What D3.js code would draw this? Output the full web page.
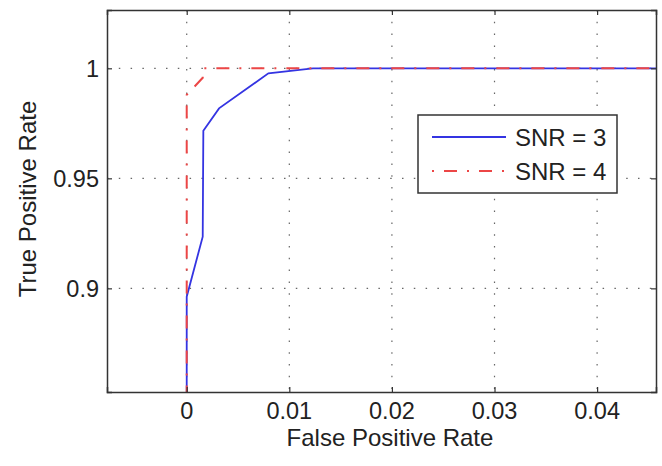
<html>
<head>
<script src="https://d3js.org/d3.v7.min.js"></script>
<style>
  body { margin: 0; background: #fff; }
  text { font-family: "Liberation Sans", Arial, sans-serif; fill: #222; }
  .grid line { stroke: #666; stroke-width: 1.2; stroke-dasharray: 1.5,10.3; }
</style>
</head>
<body>
<svg id="chart" width="662" height="466"></svg>
<script>
// values
const xTicks = [0, 0.01, 0.02, 0.03, 0.04];
const yTicks = [0.9, 0.95, 1];
const seriesNames = ["SNR = 3", "SNR = 4"];
const fprSnr3 = [0, 0, 0.00156, 0.00162, 0.00315, 0.00796, 0.0123, 0.05];
const tprSnr3 = [0.85, 0.8962, 0.9235, 0.9716, 0.9818, 0.9977, 1, 1];
const fprSnr4 = [0, 0, 0.00156, 0.00156, 0.05];
const tprSnr4 = [0.85, 0.9879, 0.9957, 1, 1];

const width = 662, height = 466;
const box = {left: 107, top: 10, right: 656, bottom: 392};

const svg = d3.select("#chart");

const xScale = d3.scaleLinear().domain([-0.00777, 0.04574]).range([box.left, box.right]);
const yScale = d3.scaleLinear().domain([0.8529, 1.0265]).range([box.bottom, box.top]);

svg.append("clipPath").attr("id", "plotclip")
   .append("rect")
   .attr("x", box.left).attr("y", box.top)
   .attr("width", box.right - box.left).attr("height", box.bottom - box.top);

// dotted grid
let grid = svg.append("g").attr("class", "grid");
grid.selectAll("line.v").data(xTicks).join("line").attr("class", "v")
    .attr("x1", d => xScale(d)).attr("x2", d => xScale(d))
    .attr("y1", box.top).attr("y2", box.bottom);
grid.selectAll("line.h").data(yTicks).join("line").attr("class", "h")
    .attr("y1", d => yScale(d)).attr("y2", d => yScale(d))
    .attr("x1", box.left).attr("x2", box.right);

// curves
const snr3 = fprSnr3.map((x, i) => [x, tprSnr3[i]]);
const snr4 = fprSnr4.map((x, i) => [x, tprSnr4[i]]);
let lineGen = d3.line().x(d => xScale(d[0])).y(d => yScale(d[1]));

let plot = svg.append("g").attr("clip-path", "url(#plotclip)");
plot.append("path").datum(snr3)
    .attr("fill", "none").attr("stroke", "#3434e2").attr("stroke-width", 1.8)
    .attr("d", lineGen);
plot.append("path").datum(snr4)
    .attr("fill", "none").attr("stroke", "#ec4646").attr("stroke-width", 2)
    .attr("stroke-dasharray", "13,10,2,10")
    .attr("d", lineGen);

// axes box with inward ticks
let axisBottom = d3.axisBottom(xScale).tickValues(xTicks).tickSize(-5).tickFormat("");
let axisTop = d3.axisTop(xScale).tickValues(xTicks).tickSize(-5).tickFormat("");
let axisLeft = d3.axisLeft(yScale).tickValues(yTicks).tickSize(-5).tickFormat("");
let axisRight = d3.axisRight(yScale).tickValues(yTicks).tickSize(-5).tickFormat("");
[[axisBottom, `translate(0,${box.bottom})`], [axisTop, `translate(0,${box.top})`],
 [axisLeft, `translate(${box.left},0)`], [axisRight, `translate(${box.right},0)`]].forEach(a => {
    let g = svg.append("g").attr("transform", a[1]).call(a[0]);
    g.select(".domain").attr("stroke", "#333").attr("stroke-width", 1.5);
    g.selectAll(".tick line").attr("stroke", "#333").attr("stroke-width", 1.2);
});

// tick labels
svg.selectAll("text.xt").data(xTicks).join("text").attr("class", "xt")
   .attr("x", d => xScale(d)).attr("y", 419)
   .attr("text-anchor", "middle").style("font-size", "23.5px")
   .text(d => d3.format("~g")(d));
svg.selectAll("text.yt").data(yTicks).join("text").attr("class", "yt")
   .attr("x", 99).attr("y", d => yScale(d) + 8.5)
   .attr("text-anchor", "end").style("font-size", "23.5px")
   .text(d => d3.format("~g")(d));

// axis titles
svg.append("text").attr("x", 390).attr("y", 446)
   .attr("text-anchor", "middle").style("font-size", "24px")
   .text("False Positive Rate");
svg.append("text").attr("transform", "translate(36,199) rotate(-90)")
   .attr("text-anchor", "middle").style("font-size", "24px")
   .text("True Positive Rate");

// legend
let legend = svg.append("g");
legend.append("rect").attr("x", 418).attr("y", 115).attr("width", 199).attr("height", 78)
      .attr("fill", "#fff").attr("stroke", "#333").attr("stroke-width", 1.5);
const legendStyles = [
    {color: "#3434e2", dash: null, w: 1.8},
    {color: "#ec4646", dash: "2,10,13,10", w: 2}
];
seriesNames.forEach((name, i) => {
    let y = 137 + i * 34;
    legend.append("line").attr("x1", 432).attr("x2", 506).attr("y1", y).attr("y2", y)
          .attr("stroke", legendStyles[i].color).attr("stroke-width", legendStyles[i].w)
          .attr("stroke-dasharray", legendStyles[i].dash);
    legend.append("text").attr("x", 515).attr("y", y + 9)
          .style("font-size", "24px").text(name);
});
</script>
</body>
</html>
